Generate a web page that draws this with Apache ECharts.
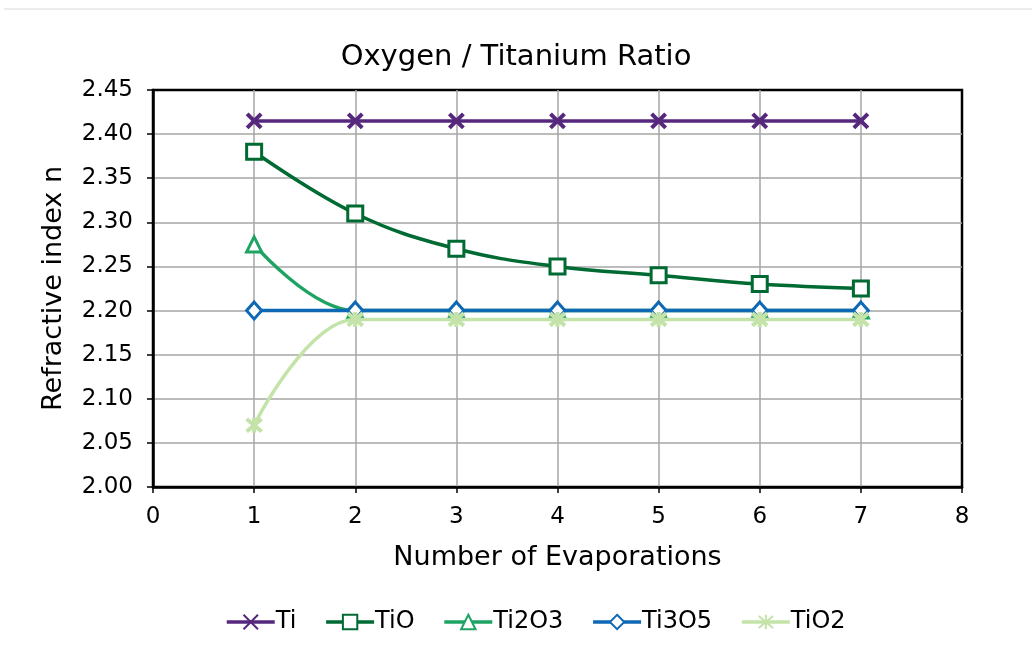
<!DOCTYPE html>
<html><head><meta charset="utf-8">
<script src="https://cdn.jsdelivr.net/npm/echarts@6/dist/echarts.min.js"></script>
<style>html,body{margin:0;padding:0;background:#fff}#c{width:1032px;height:649px}</style>
</head><body><div id="c"></div>
<script>
const evaporations = [1, 2, 3, 4, 5, 6, 7];
const Ti    = [2.415, 2.415, 2.415, 2.415, 2.415, 2.415, 2.415];
const TiO   = [2.38, 2.31, 2.27, 2.25, 2.24, 2.23, 2.225];
const Ti2O3 = [2.275, 2.20, 2.20, 2.20, 2.20, 2.20, 2.20];
const Ti3O5 = [2.20, 2.20, 2.20, 2.20, 2.20, 2.20, 2.20];
const TiO2  = [2.07, 2.19, 2.19, 2.19, 2.19, 2.19, 2.19];
const seriesNames = ['Ti', 'TiO', 'Ti2O3', 'Ti3O5', 'TiO2'];
const seriesValues = [Ti, TiO, Ti2O3, Ti3O5, TiO2];

const colors = ['#55287d', '#006a33', '#1fa363', '#0f68b4', '#c4e3a9'];
const symbols = [
  'path://M0,0L10,10M10,0L0,10',
  'rect',
  'triangle',
  'diamond',
  'path://M0,0L10,10M10,0L0,10M5,-1L5,11'
];
const sizes = [14, 15, 15, [15, 17], 15];
const borders = [4, 3, 3, 3, 4];
const FONT = 'DejaVu Sans';

const chart = echarts.init(document.getElementById('c'));
chart.setOption({
  animation: false,
  textStyle: { fontFamily: FONT },
  title: {
    text: 'Oxygen / Titanium Ratio', left: 'center', top: 38,
    textStyle: { fontFamily: FONT, fontSize: 29, fontWeight: 'normal', color: '#000' }
  },
  graphic: [{ type: 'line', shape: { x1: 4, y1: 9, x2: 1032, y2: 9 }, style: { stroke: '#d9d9d9', lineWidth: 1 } }],
  legend: {
    bottom: 10, left: 220, itemWidth: 48, itemHeight: 18, itemGap: 28,
    lineStyle: { width: 3.5 },
    textStyle: { fontFamily: FONT, fontSize: 24, color: '#000', padding: [0, 0, 0, -4] },
    data: seriesNames
  },
  grid: {
    left: 153, right: 70, top: 90, bottom: 162, show: true,
    borderColor: '#000', borderWidth: 2.5, containLabel: false
  },
  xAxis: {
    type: 'value', min: 0, max: 8, interval: 1,
    name: 'Number of Evaporations', nameLocation: 'middle', nameGap: 57,
    nameTextStyle: { fontFamily: FONT, fontSize: 27, color: '#000' },
    axisLine: { show: true, lineStyle: { color: '#000', width: 2.5 } },
    axisTick: { show: true, length: 6, lineStyle: { color: '#000', width: 1.5 } },
    axisLabel: { fontFamily: FONT, fontSize: 23, color: '#000', margin: 19 },
    splitLine: { show: true, showMinLine: false, showMaxLine: false, lineStyle: { color: '#a6a6a6', width: 1.5 } }
  },
  yAxis: {
    type: 'value', min: 2.0, max: 2.45, interval: 0.05,
    name: 'Refractive index n', nameLocation: 'middle', nameGap: 86,
    nameTextStyle: { fontFamily: FONT, fontSize: 27, color: '#000' },
    axisLine: { show: true, lineStyle: { color: '#000', width: 2.5 } },
    axisTick: { show: true, length: 6, lineStyle: { color: '#000', width: 1.5 } },
    axisLabel: { fontFamily: FONT, fontSize: 23, color: '#000', margin: 20,
      formatter: v => v.toFixed(2) },
    splitLine: { show: true, showMinLine: false, showMaxLine: false, lineStyle: { color: '#a6a6a6', width: 1.5 } }
  },
  series: seriesNames.map((name, i) => ({
    name, type: 'line', smooth: 0.4,
    data: evaporations.map((x, j) => [x, seriesValues[i][j]]),
    color: colors[i],
    symbol: symbols[i], symbolSize: sizes[i], showAllSymbol: true,
    lineStyle: { color: colors[i], width: 3.5 },
    itemStyle: { color: '#fff', borderColor: colors[i], borderWidth: borders[i] },
    z: 2 + i
  }))
});
</script></body></html>
